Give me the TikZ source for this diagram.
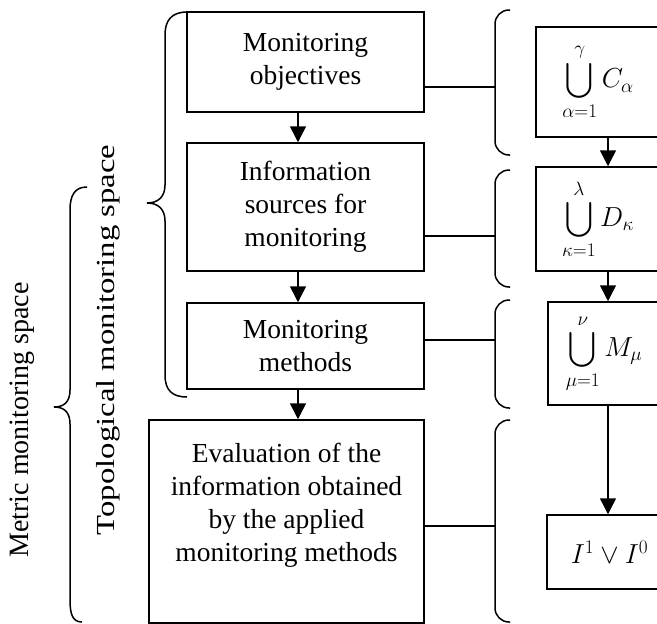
\RequirePackage{fix-cm}
\documentclass[tikz,border=0pt]{standalone}
\usepackage{exscale}
\usepackage{fontspec}
\setmainfont{Liberation Serif}
\usetikzlibrary{arrows.meta}

\tikzset{every picture/.style={line width=1.5pt}}
\tikzset{
	block/.style={draw, rectangle, align=center, inner sep=0pt, font=\fontsize{27.5}{33}\selectfont},
	setbox/.style={draw, rectangle, inner sep=0pt, font=\fontsize{27.5}{33}\selectfont},
	flow/.style={-{Triangle[length=16pt,width=16pt]}},
	bracket/.style={rounded corners=14pt},
	sidetext/.style={rotate=90, inner sep=0pt, font=\fontsize{28}{33}\selectfont}}

\begin{document}
\begin{tikzpicture}[x=1pt,y=1pt,yscale=-1,xscale=1]
	\clip (0,0) rectangle (657,624);

	% Left column
	\node[block, minimum width=237pt, minimum height=100pt] (objectives) at (305.5,62) {Monitoring\\objectives};
	\node[block, minimum width=237pt, minimum height=128pt] (sources) at (305.5,207) {Information\\sources for\\monitoring};
	\node[block, minimum width=237pt, minimum height=86pt] (methods) at (305.5,346) {Monitoring\\methods};
	\node[block, minimum width=275pt, minimum height=203pt, text depth=38pt] (evaluation) at (286.5,521.5) {Evaluation of the\\information obtained\\by the applied\\monitoring methods};

	% Right column
	\node[setbox, minimum width=124pt, minimum height=110pt] (setC) at (598,82) {$\displaystyle\bigcup_{\alpha=1}^{\gamma} C_{\alpha}$};
	\node[setbox, minimum width=124pt, minimum height=104pt] (setD) at (598,219) {$\displaystyle\bigcup_{\kappa=1}^{\lambda} D_{\kappa}$};
	\node[setbox, minimum width=112pt, minimum height=103pt] (setM) at (604,353.5) {$\displaystyle\bigcup_{\mu=1}^{\nu} M_{\mu}$};
	\node[setbox, minimum width=125pt, minimum height=74pt] (result) at (609.5,552) {$I^{1}\vee I^{0}$};

	% Arrows
	\coordinate (lx) at (298,0);
	\coordinate (rx) at (608,0);
	\draw[flow] (objectives.south -| lx) -- (sources.north -| lx);
	\draw[flow] (sources.south -| lx) -- (methods.north -| lx);
	\draw[flow] (methods.south -| lx) -- (evaluation.north -| lx);
	\draw[flow] (setC.south -| rx) -- (setD.north -| rx);
	\draw[flow] (setD.south -| rx) -- (setM.north -| rx);
	\draw[flow] (setM.south -| rx) -- (result.north -| rx);

	% Brackets and links
	\coordinate (k1) at (495,87);
	\coordinate (k2) at (495,236);
	\coordinate (k3) at (495,340);
	\coordinate (k4) at (495,526);
	\draw[bracket] (510,10) -| (k1) |- (510,155);
	\draw[bracket] (510,170) -| (k2) |- (510,287);
	\draw[bracket] (510,300) -| (k3) |- (510,408);
	\draw[bracket] (510,420) -| (k4) |- (510,622);
	\draw (objectives.east |- k1) -- (k1);
	\draw (sources.east |- k2) -- (k2);
	\draw (methods.east |- k3) -- (k3);
	\draw (evaluation.east |- k4) -- (k4);

	% Left braces
	\draw (187,12) .. controls (172,12) and (165,20) .. (165,35) -- (165,185) .. controls (165,197) and (158,203) .. (147,203) .. controls (158,203) and (165,209) .. (165,221) -- (165,375) .. controls (165,390) and (172,397) .. (187,397);
	\draw (87,187) .. controls (75,187) and (70,195) .. (70,210) -- (70,390) .. controls (70,402) and (64,407) .. (54,407) .. controls (64,407) and (70,412) .. (70,424) -- (70,600) .. controls (70,615) and (73,622) .. (82,622);

	% Side labels
	\node[sidetext, font=\fontsize{26}{31}\selectfont] (topological) at (108,340) {\scalebox{1.26}[1]{Topological monitoring space}};
	\node[sidetext] (metric) at (22,420) {Metric monitoring space};
\end{tikzpicture}
\end{document}
